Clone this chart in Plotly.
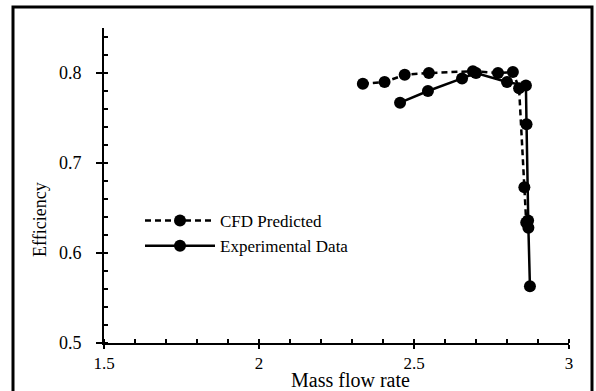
import plotly.graph_objects as go

# Data
cfd_x = [2.335, 2.405, 2.47, 2.548, 2.69, 2.771, 2.819, 2.839, 2.856, 2.862]
cfd_y = [0.788, 0.790, 0.798, 0.800, 0.802, 0.800, 0.801, 0.783, 0.673, 0.634]
exp_x = [2.455, 2.545, 2.655, 2.70, 2.80, 2.861, 2.863, 2.868, 2.869, 2.874]
exp_y = [0.767, 0.780, 0.794, 0.800, 0.790, 0.786, 0.743, 0.636, 0.628, 0.563]

x_ticks = [1.5, 2, 2.5, 3]
x_tick_text = ["1.5", "2", "2.5", "3"]
y_ticks = [0.5, 0.6, 0.7, 0.8]
y_tick_text = ["0.5", "0.6", "0.7", "0.8"]

FONT = "Liberation Serif"

fig = go.Figure()
fig.add_trace(go.Scatter(
    x=cfd_x, y=cfd_y, mode="lines+markers", name="CFD Predicted",
    line=dict(color="black", width=2.5, dash="6px,4px"),
    marker=dict(color="black", size=12),
))
fig.add_trace(go.Scatter(
    x=exp_x, y=exp_y, mode="lines+markers", name="Experimental Data",
    line=dict(color="black", width=2.5),
    marker=dict(color="black", size=12),
))

W, H = 596, 391
L, R, T, B = 104, 27, 28, 48
pw, ph = W - L - R, H - T - B

def px(xp):
    return (xp - L) / pw

def py(yp):
    return (H - B - yp) / ph

fig.update_layout(
    width=W, height=H,
    margin=dict(l=L, r=R, t=T, b=B),
    paper_bgcolor="white", plot_bgcolor="white",
    font=dict(family=FONT, color="black", size=17),
    showlegend=True,
    legend=dict(
        x=px(140), y=py(203), xanchor="left", yanchor="top",
        bgcolor="rgba(0,0,0,0)", font=dict(size=17, family=FONT),
        itemwidth=70, tracegroupgap=0,
    ),
    xaxis=dict(
        range=[1.5, 3], showline=True, linecolor="black", linewidth=2,
        showgrid=False, zeroline=False,
        tickvals=x_ticks, ticktext=x_tick_text,
        ticks="outside", ticklen=4, tickwidth=2, tickcolor="black",
        tickfont=dict(size=17, family=FONT),
        minor=dict(dtick=0.1, tick0=1.5, ticks="inside", ticklen=4,
                   tickwidth=2, tickcolor="black", showgrid=False),
    ),
    yaxis=dict(
        range=[0.5, 0.85], showline=True, linecolor="black", linewidth=2,
        showgrid=False, zeroline=False,
        tickvals=y_ticks, ticktext=y_tick_text,
        ticks="outside", ticklen=6, tickwidth=2, tickcolor="black",
        tickfont=dict(size=18, family=FONT),
        ticklabelstandoff=11,
        minor=dict(dtick=0.02, tick0=0.5, ticks="inside", ticklen=4,
                   tickwidth=2, tickcolor="black", showgrid=False),
    ),
    annotations=[
        dict(text="Mass flow rate", x=px(350), y=py(380), xref="paper", yref="paper",
             xanchor="center", yanchor="middle", showarrow=False,
             font=dict(size=20, family=FONT)),
        dict(text="Efficiency", x=px(40), y=py(220), xref="paper", yref="paper",
             xanchor="center", yanchor="middle", showarrow=False, textangle=-90,
             font=dict(size=18, family=FONT)),
    ],
    shapes=[
        dict(type="rect", xref="paper", yref="paper",
             x0=px(13), x1=px(592), y0=py(400), y1=py(7),
             line=dict(color="black", width=3), fillcolor="rgba(0,0,0,0)"),
    ],
)

fig.write_html("out.html")
